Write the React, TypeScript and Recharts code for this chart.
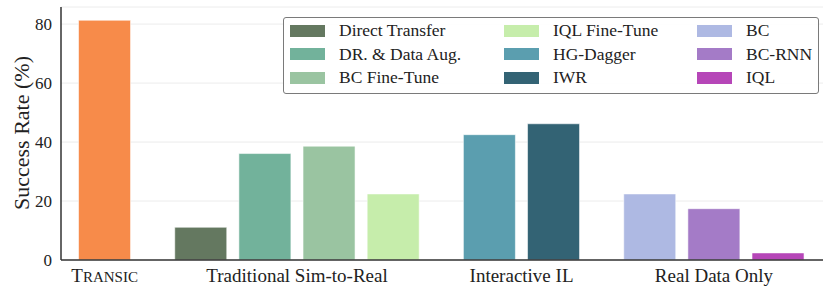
import { BarChart, Bar, XAxis, YAxis, CartesianGrid, Cell } from 'recharts';

const groupLabels = ['Transic', 'Traditional Sim-to-Real', 'Interactive IL', 'Real Data Only'];
const methods = [
  'Transic',
  'Direct Transfer',
  'DR. & Data Aug.',
  'BC Fine-Tune',
  'IQL Fine-Tune',
  'HG-Dagger',
  'IWR',
  'BC',
  'BC-RNN',
  'IQL',
];
const methodGroup = [0, 1, 1, 1, 1, 2, 2, 3, 3, 3];
const successRate = [81.3, 11.1, 36.1, 38.6, 22.4, 42.5, 46.2, 22.4, 17.4, 2.4];
const methodColors = [
  '#F78B4A',
  '#647860',
  '#72B29B',
  '#9AC4A1',
  '#C6EDAB',
  '#5B9EAF',
  '#336374',
  '#AEB9E3',
  '#A47BC7',
  '#B646B8',
];
const yTicks = [0, 20, 40, 60, 80];

const FONT = 'Liberation Serif, DejaVu Serif, serif';
const GROUP_GAP = 0.5;

// bar slot = index + extra gap per group
const data = methods.map((name, i) => ({
  name,
  x: i + methodGroup[i] * GROUP_GAP,
  value: successRate[i],
  color: methodColors[i],
}));

const groupTicks = groupLabels.map((_, g) => {
  const xs = data.filter((_, i) => methodGroup[i] === g).map((d) => d.x);
  return (Math.min(...xs) + Math.max(...xs)) / 2;
});

// legend lists everything except our method, column by column
const legendItems = data.slice(1);

function GroupTick(props: any) {
  const { x, y, payload } = props;
  const idx = groupTicks.indexOf(payload.value);
  const label = groupLabels[idx] ?? '';
  if (idx === 0) {
    // small caps, like \textsc
    return (
      <text x={x} y={y + 14} textAnchor="middle" fill="#222" style={{ fontFamily: FONT, fontSize: 19 }}>
        <tspan>{label.charAt(0).toUpperCase()}</tspan>
        <tspan style={{ fontSize: 15 }}>{label.slice(1).toUpperCase()}</tspan>
      </text>
    );
  }
  return (
    <text x={x} y={y + 14} textAnchor="middle" fill="#222" style={{ fontFamily: FONT, fontSize: 19 }}>
      {label}
    </text>
  );
}

function YTick(props: any) {
  const { x, y, payload } = props;
  return (
    <text x={x} y={y} dy={6} textAnchor="end" fill="#222" style={{ fontFamily: FONT, fontSize: 17 }}>
      {payload.value}
    </text>
  );
}

function YLabel() {
  return (
    <text
      x={21}
      y={133}
      transform="rotate(-90 21 133)"
      textAnchor="middle"
      dominantBaseline="central"
      fill="#222"
      style={{ fontFamily: FONT, fontSize: 22 }}
    >
      Success Rate (%)
    </text>
  );
}

function LegendBox() {
  const cols = [legendItems.slice(0, 3), legendItems.slice(3, 6), legendItems.slice(6, 9)];
  const colWidths = [214, 193, 120];
  return (
    <div
      style={{
        position: 'absolute',
        left: 283,
        top: 17,
        width: 536,
        height: 77,
        border: '1px solid #7a7a7a',
        borderRadius: 3,
        background: 'rgba(255,255,255,0.9)',
        display: 'flex',
        padding: '1px 0 0 6px',
        boxSizing: 'border-box',
        fontFamily: FONT,
        fontSize: 17.5,
        color: '#222',
        whiteSpace: 'nowrap',
      }}
    >
      {cols.map((col, c) => (
        <div key={c} style={{ width: colWidths[c] }}>
          {col.map((d) => (
            <div key={d.name} style={{ display: 'flex', alignItems: 'center', height: 23.5 }}>
              <span
                style={{
                  display: 'inline-block',
                  width: 35,
                  height: 12,
                  background: d.color,
                  marginRight: 14,
                  flexShrink: 0,
                }}
              />
              <span>{d.name}</span>
            </div>
          ))}
        </div>
      ))}
    </div>
  );
}

export default function App() {
  return (
    <div style={{ position: 'fixed', left: 0, top: 0, width: 830, height: 294, background: '#fff' }}>
      <BarChart width={830} height={294} data={data} margin={{ top: 7, right: 7, bottom: 0, left: 0 }}>
        <CartesianGrid vertical={false} stroke="#ececec" strokeWidth={1} />
        <XAxis
          type="number"
          dataKey="x"
          domain={[-0.68, 11.2]}
          ticks={groupTicks}
          interval={0}
          allowDataOverflow
          height={34}
          tickLine={false}
          axisLine={{ stroke: '#333', strokeWidth: 1.5 }}
          tick={<GroupTick />}
        />
        <YAxis
          type="number"
          domain={[0, 85.8]}
          ticks={yTicks}
          width={61}
          tickLine={false}
          axisLine={{ stroke: '#333', strokeWidth: 1.5 }}
          tick={<YTick />}
          tickMargin={3}
          label={<YLabel />}
        />
        <Bar dataKey="value" barSize={52} isAnimationActive={false} stroke="rgba(255,255,255,0.55)" strokeWidth={1}>
          {data.map((d) => (
            <Cell key={d.name} fill={d.color} />
          ))}
        </Bar>
      </BarChart>
      <LegendBox />
    </div>
  );
}
